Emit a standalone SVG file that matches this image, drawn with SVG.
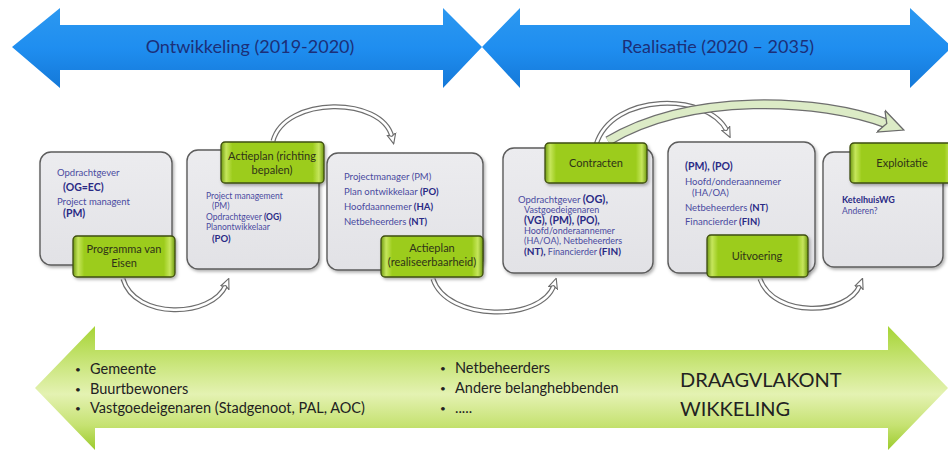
<svg xmlns="http://www.w3.org/2000/svg" width="948" height="453" viewBox="0 0 948 453">
<defs>
  <linearGradient id="blueG" x1="0" y1="0" x2="0" y2="1">
    <stop offset="0" stop-color="#2c98f0"/>
    <stop offset="0.5" stop-color="#1f8ef0"/>
    <stop offset="1" stop-color="#1478d8"/>
  </linearGradient>
  <linearGradient id="greenBand" x1="0" y1="0" x2="0" y2="1">
    <stop offset="0" stop-color="#a6d435"/>
    <stop offset="0.3" stop-color="#c9e57a"/>
    <stop offset="0.55" stop-color="#e4f2b2"/>
    <stop offset="0.8" stop-color="#c6e272"/>
    <stop offset="1" stop-color="#9ccb2c"/>
  </linearGradient>
  <linearGradient id="labelG" x1="0" y1="0" x2="1" y2="0">
    <stop offset="0" stop-color="#6f9a10"/>
    <stop offset="0.05" stop-color="#c6e65c"/>
    <stop offset="0.11" stop-color="#9ccc1c"/>
    <stop offset="0.89" stop-color="#9ccc1c"/>
    <stop offset="0.95" stop-color="#c6e65c"/>
    <stop offset="1" stop-color="#6f9a10"/>
  </linearGradient>
  <linearGradient id="boxG" x1="0" y1="0" x2="0" y2="1">
    <stop offset="0" stop-color="#ececef"/>
    <stop offset="1" stop-color="#e2e2e6"/>
  </linearGradient>
  <filter id="sh" x="-10%" y="-10%" width="130%" height="130%">
    <feDropShadow dx="1.5" dy="2" stdDeviation="1.5" flood-color="#000" flood-opacity="0.3"/>
  </filter>
  <marker id="ah" viewBox="0 0 10 10" refX="3" refY="5" markerWidth="11" markerHeight="11" markerUnits="userSpaceOnUse" orient="auto">
    <path d="M0,0.8 L9.5,5 L0,9.2 L2.5,5 z" fill="#fff" stroke="#6a6a6a" stroke-width="1"/>
  </marker>
  <marker id="ahg" viewBox="0 0 10 10" refX="3" refY="5" markerWidth="26" markerHeight="26" markerUnits="userSpaceOnUse" orient="auto">
    <path d="M0,0.5 L9.5,5 L0,9.5 L2.5,5 z" fill="#dcebc6" stroke="#6a6a6a" stroke-width="0.5"/>
  </marker>
  <style>
    .lbl { fill: url(#labelG); stroke: #3e4d10; stroke-width: 1.3; filter: url(#sh); }
    .box { fill: url(#boxG); stroke: #5c5c5c; stroke-width: 1.4; filter: url(#sh); }
    .lt { font-family: Lato, "Open Sans", sans-serif; font-size: 11px; fill: #2f3318; text-anchor: middle; }
    .nt { font-family: Lato, "Open Sans", sans-serif; font-size: 9.5px; fill: #4a4aa0; }
    .b { font-weight: bold; fill: #2a2a85; }
    .outer { fill: none; stroke: #6e6e6e; stroke-width: 5; }
    .inner { fill: none; stroke: #ffffff; stroke-width: 2.6; }
    .bt { font-family: Lato, "Open Sans", sans-serif; font-size: 14.5px; fill: #222; }
    .bu { font-family: Lato, "Open Sans", sans-serif; font-size: 10px; fill: #222; }
    .big { font-family: Lato, "Open Sans", sans-serif; font-size: 20px; fill: #222; }
    .tt { font-family: Lato, "Open Sans", sans-serif; font-size: 18px; fill: #1c2f78; text-anchor: middle; }
  </style>
</defs>

<rect width="948" height="453" fill="#ffffff"/>

<g id="phase-arrows">
  <polygon points="12,47 60,8 60,25 443,25 443,8 482,47 443,88 443,70 60,70 60,88" fill="url(#blueG)"/>
  <polygon points="482,47 520,8 520,25 910,25 910,8 952,47 910,88 910,70 520,70 520,88" fill="url(#blueG)"/>
  <text class="tt" x="250" y="53">Ontwikkeling (2019-2020)</text>
  <text class="tt" x="718" y="53">Realisatie  (2020 – 2035)</text>
</g>

<g id="connectors">
  <path class="outer" d="M 123 279 C 135 320, 212 318, 226 285"/>
  <path class="inner" d="M 123 279 C 135 320, 212 318, 226 285" marker-end="url(#ah)"/>
  <path class="outer" d="M 273 141 C 285 96, 382 96, 392 137"/>
  <path class="inner" d="M 273 141 C 285 96, 382 96, 392 137" marker-end="url(#ah)"/>
  <path class="outer" d="M 433 279 C 447 322, 542 322, 554 285"/>
  <path class="inner" d="M 433 279 C 447 322, 542 322, 554 285" marker-end="url(#ah)"/>
  <path class="outer" d="M 596 145 C 612 92, 708 92, 727 131"/>
  <path class="inner" d="M 596 145 C 612 92, 708 92, 727 131" marker-end="url(#ah)"/>
  <path fill="none" stroke="#6e6e6e" stroke-width="10" d="M 608 141 C 690 92, 820 98, 888 124"/>
  <path fill="none" stroke="#dcebc6" stroke-width="7.5" d="M 608 141 C 690 92, 820 98, 888 124" marker-end="url(#ahg)"/>
  <path class="outer" d="M 760 279 C 774 318, 848 316, 860 285"/>
  <path class="inner" d="M 760 279 C 774 318, 848 316, 860 285" marker-end="url(#ah)"/>
</g>

<g id="node-programma">
  <rect class="box" x="40" y="152" width="132" height="113" rx="11"/>
  <text class="nt" x="57" y="176">Opdrachtgever</text>
  <text class="nt b" x="63" y="191" style="font-size:10.5px">(OG=EC)</text>
  <text class="nt" x="57" y="205">Project managent</text>
  <text class="nt b" x="63" y="217" style="font-size:10.5px">(PM)</text>
  <rect class="lbl" x="73" y="236" width="102" height="41" rx="4"/>
  <text class="lt" x="124" y="253">Programma van</text>
  <text class="lt" x="124" y="267">Eisen</text>
</g>

<g id="node-actieplan-richting">
  <rect class="box" x="187" y="150" width="132" height="119" rx="11"/>
  <text class="nt" x="206" y="199" style="font-size:8.5px">Project management</text>
  <text class="nt" x="212" y="209" style="font-size:8.5px">(PM)</text>
  <text class="nt" x="206" y="220" style="font-size:8.5px">Opdrachtgever <tspan class="b">(OG)</tspan></text>
  <text class="nt" x="206" y="230" style="font-size:8.5px">Planontwikkelaar</text>
  <text class="nt b" x="212" y="242" style="font-size:9.5px">(PO)</text>
  <rect class="lbl" x="221" y="142" width="103" height="41" rx="4"/>
  <text class="lt" x="272" y="160">Actieplan  (richting</text>
  <text class="lt" x="272" y="174">bepalen)</text>
</g>

<g id="node-actieplan-realiseer">
  <rect class="box" x="327" y="153" width="156" height="117" rx="11"/>
  <text class="nt" x="344" y="180">Projectmanager (PM)</text>
  <text class="nt" x="344" y="195">Plan ontwikkelaar <tspan class="b">(PO)</tspan></text>
  <text class="nt" x="344" y="210">Hoofdaannemer <tspan class="b">(HA)</tspan></text>
  <text class="nt" x="344" y="225">Netbeheerders <tspan class="b">(NT)</tspan></text>
  <rect class="lbl" x="381" y="236" width="102" height="41" rx="4"/>
  <text class="lt" x="432" y="252">Actieplan</text>
  <text class="lt" x="432" y="266">(realiseerbaarheid)</text>
</g>

<g id="node-contracten">
  <rect class="box" x="503" y="148" width="150" height="125" rx="11"/>
  <text class="nt" x="518" y="203">Opdrachtgever <tspan class="b" style="font-size:11px">(OG),</tspan></text>
  <text class="nt" x="524" y="213" style="font-size:9px">Vastgoedeigenaren</text>
  <text class="nt b" x="524" y="224" style="font-size:10.5px">(VG), (PM), (PO),</text>
  <text class="nt" x="524" y="234" style="font-size:9px">Hoofd/onderaannemer</text>
  <text class="nt" x="524" y="244" style="font-size:9px">(HA/OA), Netbeheerders</text>
  <text class="nt" x="524" y="255" style="font-size:9px"><tspan class="b" style="font-size:10px">(NT),</tspan> Financierder <tspan class="b" style="font-size:10px">(FIN)</tspan></text>
  <rect class="lbl" x="545" y="143" width="102" height="40" rx="4"/>
  <text class="lt" x="596" y="167">Contracten</text>
</g>

<g id="node-uitvoering">
  <rect class="box" x="668" y="142" width="147" height="131" rx="11"/>
  <text class="nt b" x="685" y="170" style="font-size:10.5px">(PM),  (PO)</text>
  <text class="nt" x="685" y="185">Hoofd/onderaannemer</text>
  <text class="nt" x="692" y="196">(HA/OA)</text>
  <text class="nt" x="685" y="211">Netbeheerders <tspan class="b">(NT)</tspan></text>
  <text class="nt" x="685" y="225">Financierder <tspan class="b">(FIN)</tspan></text>
  <rect class="lbl" x="707" y="235" width="101" height="42" rx="4"/>
  <text class="lt" x="757" y="260">Uitvoering</text>
</g>

<g id="node-exploitatie">
  <rect class="box" x="823" y="152" width="120" height="115" rx="11"/>
  <text class="nt b" x="842" y="203" style="font-size:9px">KetelhuisWG</text>
  <text class="nt" x="842" y="214" style="font-size:8.5px">Anderen?</text>
  <rect class="lbl" x="850" y="143" width="106" height="40" rx="4"/>
  <text class="lt" x="902" y="167">Exploitatie</text>
</g>

<g id="draagvlak-arrow">
  <polygon points="35,388 95,326 95,350 888,350 888,326 948,388 888,450 888,428 95,428 95,450" fill="url(#greenBand)"/>
  <text class="bu" x="75" y="373">•</text>
  <text class="bt" x="90" y="374">Gemeente</text>
  <text class="bu" x="75" y="393">•</text>
  <text class="bt" x="90" y="394">Buurtbewoners</text>
  <text class="bu" x="75" y="412">•</text>
  <text class="bt" x="90" y="413">Vastgoedeigenaren (Stadgenoot, PAL, AOC)</text>
  <text class="bu" x="440" y="372">•</text>
  <text class="bt" x="455" y="373">Netbeheerders</text>
  <text class="bu" x="440" y="392">•</text>
  <text class="bt" x="455" y="393">Andere belanghebbenden</text>
  <text class="bu" x="440" y="412">•</text>
  <text class="bt" x="455" y="413">.....</text>
  <text class="big" x="680" y="387">DRAAGVLAKONT</text>
  <text class="big" x="680" y="416">WIKKELING</text>
</g>
</svg>
